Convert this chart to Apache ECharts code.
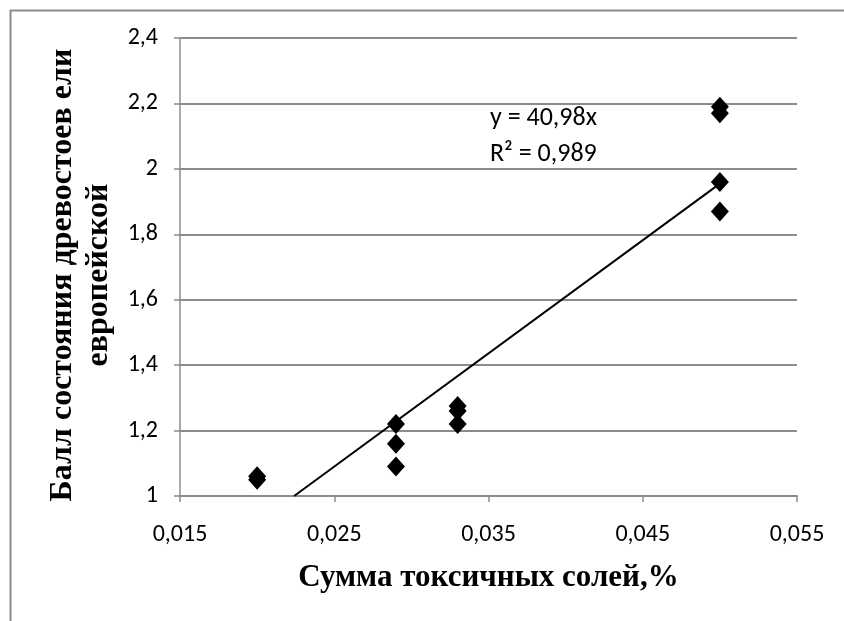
<!DOCTYPE html>
<html>
<head>
<meta charset="utf-8">
<script src="https://cdn.jsdelivr.net/npm/echarts@6/dist/echarts.min.js"></script>
<style>html,body{margin:0;padding:0;background:#fff;}#c{width:844px;height:621px;}</style>
</head>
<body>
<div id="c"></div>
<script>
const xValues = [0.02, 0.02, 0.029, 0.029, 0.029, 0.033, 0.033, 0.033, 0.05, 0.05, 0.05, 0.05];
const yValues = [1.06, 1.05, 1.22, 1.16, 1.09, 1.275, 1.26, 1.22, 2.19, 2.17, 1.96, 1.87];
const trendX = [0.0224, 0.05];
const trendY = [1.0, 1.955];
const xTicks = [0.015, 0.025, 0.035, 0.045, 0.055];
const yTicks = [1, 1.2, 1.4, 1.6, 1.8, 2, 2.2, 2.4];
const equationLines = ['y = 40,98x', 'R² = 0,989'];
const xTitle = 'Сумма токсичных солей,%';
const yTitle = 'Балл состояния древостоев ели\nевропейской';

const fmt = v => String(v).replace('.', ',');
const labelFont = 'Carlito, "Open Sans", sans-serif';
const titleFont = '"Liberation Serif", "DejaVu Serif", serif';

const chart = echarts.init(document.getElementById('c'));
chart.setOption({
  animation: false,
  backgroundColor: '#fff',
  grid: { left: 180, top: 38, width: 617, height: 458 },
  xAxis: {
    type: 'value', min: xTicks[0], max: xTicks[xTicks.length - 1], interval: 0.01,
    axisLine: { show: true, lineStyle: { color: '#8c8c8c', width: 2 } },
    axisTick: { show: true, length: 6, lineStyle: { color: '#8c8c8c', width: 1.5 } },
    splitLine: { show: false },
    axisLabel: { formatter: v => fmt(+v.toFixed(3)), color: '#000', fontSize: 24, fontFamily: labelFont, margin: 27 },
    name: xTitle, nameLocation: 'middle', nameGap: 66,
    nameTextStyle: { fontFamily: titleFont, fontWeight: 'bold', fontSize: 31, color: '#000' }
  },
  yAxis: {
    type: 'value', min: yTicks[0], max: yTicks[yTicks.length - 1], interval: 0.2,
    axisLine: { show: true, lineStyle: { color: '#8c8c8c', width: 1.5 } },
    axisTick: { show: true, length: 6, lineStyle: { color: '#8c8c8c', width: 1.5 } },
    splitLine: { show: true, lineStyle: { color: '#8c8c8c', width: 2 } },
    axisLabel: { formatter: v => fmt(+v.toFixed(1)), color: '#000', fontSize: 24, fontFamily: labelFont, margin: 22 }
  },
  series: [
    {
      type: 'line', data: trendX.map((x, i) => [x, trendY[i]]), showSymbol: false, symbol: 'none',
      lineStyle: { color: '#000', width: 2 }, z: 2
    },
    {
      type: 'scatter', data: xValues.map((x, i) => [x, yValues[i]]), symbol: 'diamond', symbolSize: [18, 20],
      itemStyle: { color: '#000', opacity: 1 }, z: 3
    }
  ],
  graphic: [
    { type: 'rect', left: 8, top: 8, shape: { width: 1000, height: 1000 }, style: { fill: 'none', stroke: '#8c8c8c', lineWidth: 2 }, silent: true },
    { type: 'text', x: 81, y: 275, rotation: Math.PI / 2,
      style: { text: yTitle, font: 'bold 32px ' + titleFont, fill: '#000', align: 'center', verticalAlign: 'middle', lineHeight: 36 } },
    { type: 'text', left: 490, top: 105, style: { text: equationLines[0], font: '26px ' + labelFont, fill: '#000' } },
    { type: 'text', left: 490, top: 141, style: { text: equationLines[1], font: '26px ' + labelFont, fill: '#000' } }
  ]
});
</script>
</body>
</html>
